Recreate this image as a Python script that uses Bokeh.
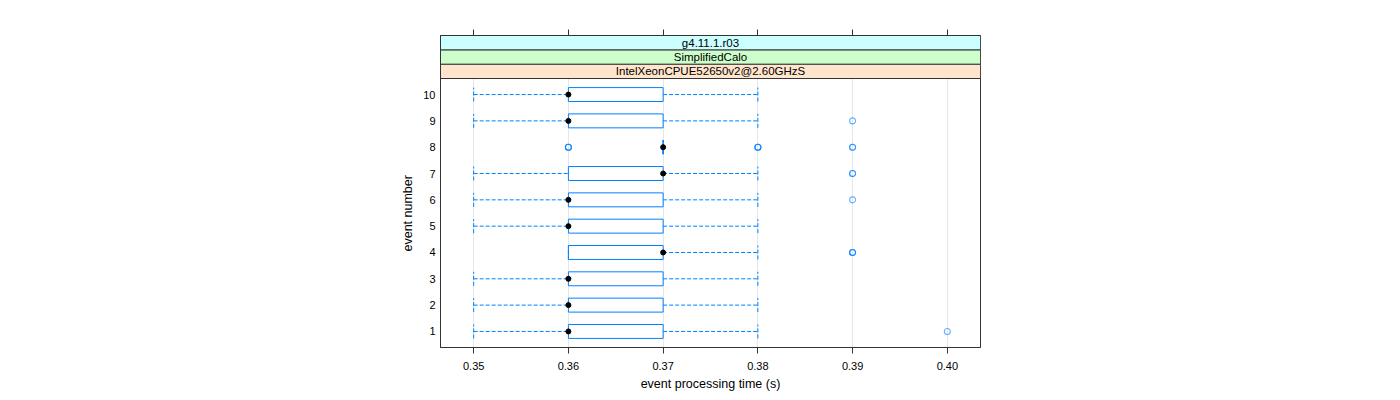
from bokeh.plotting import figure
from bokeh.models import Range1d, LinearAxis, FixedTicker, Title, PrintfTickFormatter, CustomJSTickFormatter
from bokeh.embed import file_html
from bokeh.resources import INLINE
from bokeh.core.properties import value

# ---------------- data ----------------
events = [1, 2, 3, 4, 5, 6, 7, 8, 9, 10]
q1 = [0.36, 0.36, 0.36, 0.36, 0.36, 0.36, 0.36, 0.37, 0.36, 0.36]
median = [0.36, 0.36, 0.36, 0.37, 0.36, 0.36, 0.37, 0.37, 0.36, 0.36]
q3 = [0.37, 0.37, 0.37, 0.37, 0.37, 0.37, 0.37, 0.37, 0.37, 0.37]
whisker_lo = [0.35, 0.35, 0.35, 0.36, 0.35, 0.35, 0.35, 0.37, 0.35, 0.35]
whisker_hi = [0.38, 0.38, 0.38, 0.38, 0.38, 0.38, 0.38, 0.37, 0.38, 0.38]
outlier_event = [1, 4, 4, 4, 6, 7, 7, 8, 8, 8, 8, 8, 8, 8, 8, 9]
outlier_value = [0.40, 0.39, 0.39, 0.39, 0.39, 0.39, 0.39, 0.36, 0.36, 0.36,
                 0.38, 0.38, 0.38, 0.39, 0.39, 0.39]
x_ticks = [0.35, 0.36, 0.37, 0.38, 0.39, 0.40]
strip_labels = ["IntelXeonCPUE52650v2@2.60GHzS", "SimplifiedCalo", "g4.11.1.r03"]
strip_colors = ["#ffe5cc", "#ccffcc", "#ccffff"]

# ---------------- layout ----------------
FONT = "Liberation Sans"
BLUE = "#0080ff"
FRAME_W, FRAME_H = 540, 312
PANEL_PX = 269
STRIP_PX = 43 / 3.0
X_START, X_END = 0.3465, 0.4035
Y_START, PANEL_TOP = 0.39, 10.61
yu = (PANEL_TOP - Y_START) / PANEL_PX
strip_h = STRIP_PX * yu
Y_END = PANEL_TOP + 3 * strip_h
BOX_H = 0.53

p = figure(frame_width=FRAME_W, frame_height=FRAME_H,
           min_border_left=440, min_border_right=404,
           min_border_top=35, min_border_bottom=40,
           x_range=Range1d(X_START, X_END), y_range=Range1d(Y_START, Y_END),
           output_backend="svg", toolbar_location=None)

p.outline_line_color = "#333333"
p.background_fill_color = "white"
p.border_fill_color = "white"

# grid
p.ygrid.visible = False
p.xgrid.ticker = FixedTicker(ticks=x_ticks)
p.xgrid.grid_line_color = "#e6e6e6"
p.xgrid.grid_line_width = 1

# bottom axis
xa = p.xaxis[0]
xa.ticker = FixedTicker(ticks=x_ticks)
xa.formatter = PrintfTickFormatter(format="%.2f")
xa.major_tick_out = 6
xa.major_tick_in = 0
xa.minor_tick_out = 0
xa.minor_tick_in = 0
xa.major_label_standoff = 8
xa.axis_line_color = "#333333"
xa.major_tick_line_color = "#333333"
xa.major_label_text_font = FONT
xa.major_label_text_font_size = "11px"
xa.major_label_text_color = "black"
xa.axis_label = "event processing time (s)"
xa.axis_label_text_font = FONT
xa.axis_label_text_font_size = "12.5px"
xa.axis_label_text_font_style = "normal"
xa.axis_label_text_color = "black"
xa.axis_label_standoff = 4

# top axis (ticks only)
ta = LinearAxis(ticker=FixedTicker(ticks=x_ticks),
                formatter=CustomJSTickFormatter(code="return ''"))
ta.major_tick_out = 6
ta.major_tick_in = 0
ta.minor_tick_out = 0
ta.minor_tick_in = 0
ta.major_label_standoff = 0
ta.axis_line_color = "#333333"
ta.major_tick_line_color = "#333333"
p.add_layout(ta, "above")

# left axis
ya = p.yaxis[0]
ya.ticker = FixedTicker(ticks=events)
ya.major_tick_out = 0
ya.major_tick_in = 0
ya.minor_tick_out = 0
ya.minor_tick_in = 0
ya.major_label_standoff = 5
ya.axis_line_color = "#333333"
ya.major_label_text_font = FONT
ya.major_label_text_font_size = "11px"
ya.major_label_text_color = "black"

# whiskers
p.segment(x0=whisker_lo, y0=events, x1=q1, y1=events,
          line_color=BLUE, line_dash="4 2", line_width=1)
p.segment(x0=q3, y0=events, x1=whisker_hi, y1=events,
          line_color=BLUE, line_dash="4 2", line_width=1)
cap_lo = [e - BOX_H / 2 for e in events]
cap_hi = [e + BOX_H / 2 for e in events]
p.segment(x0=whisker_lo, y0=cap_lo, x1=whisker_lo, y1=cap_hi,
          line_color=BLUE, line_dash="4 2", line_width=1)
p.segment(x0=whisker_hi, y0=cap_lo, x1=whisker_hi, y1=cap_hi,
          line_color=BLUE, line_dash="4 2", line_width=1)

# boxes
p.quad(left=q1, right=q3, bottom=cap_lo, top=cap_hi,
       fill_color=None, line_color=BLUE, line_width=1)

# outliers
p.scatter(x=outlier_value, y=outlier_event, marker="circle", size=6,
          fill_color=None, line_color=BLUE, line_width=1.1, line_alpha=0.6)

# medians
p.scatter(x=median, y=events, marker="circle", size=5,
          fill_color="black", line_color="black")

# strips
s_bottoms = [PANEL_TOP + i * strip_h for i in range(3)]
s_tops = [b + strip_h for b in s_bottoms]
p.quad(left=X_START, right=X_END, bottom=s_bottoms, top=s_tops,
       fill_color=strip_colors, line_color="#333333", line_width=1)
p.text(x=[(X_START + X_END) / 2] * 3, y=[b + strip_h / 2 for b in s_bottoms],
       text=strip_labels, text_align="center", text_baseline="middle",
       text_font=value(FONT), text_font_size="11.5px", text_color="black")

# y label (centred on the panel, not on the strips)
p.add_layout(Title(text="event number", align="left", offset=96,
                   text_font=FONT, text_font_size="12.5px",
                   text_font_style="normal", text_color="black",
                   standoff=12), "left")

open("out.html", "w").write(file_html(p, INLINE))
